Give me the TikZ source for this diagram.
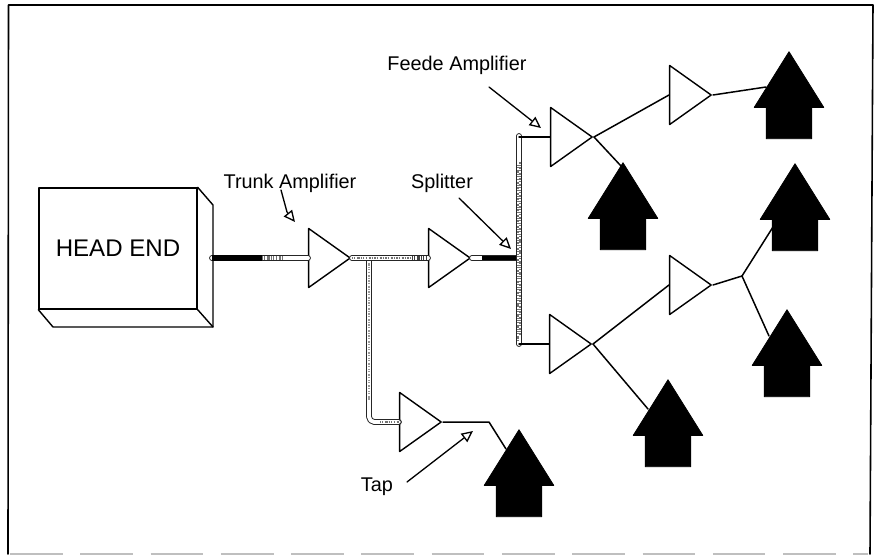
\documentclass[tikz,border=0pt]{standalone}
\usepackage{fontspec}
\setmainfont{Liberation Sans}
\usepackage{tikz}
\usetikzlibrary{arrows.meta,shapes.geometric,shapes.arrows}
\tikzset{
  every picture/.style={line join=round, line cap=round, >=Stealth},
  amp/.style={draw, isosceles triangle, isosceles triangle stretches, anchor=apex, inner sep=0pt, minimum width=1.18cm, minimum height=0.83cm, line width=0.8pt, fill=white},
  house/.style={single arrow, shape border rotate=90, anchor=tip, draw, fill=black, inner ysep=0pt, inner xsep=0.45cm, minimum height=1.74cm, minimum width=1.38cm, single arrow head extend=0.24cm, single arrow tip angle=64},
  wire/.style={line width=0.85pt},
  cable/.style={draw=black!85, line width=0.55pt, double=white, double distance=2.2pt},
  grit/.style={draw=black!55, line width=1pt, dash pattern=on 0.8pt off 0.6pt on 0.4pt off 1.3pt on 1.3pt off 0.5pt on 0.5pt off 0.9pt, line cap=butt},
  solidrun/.style={draw=black, line width=3.2pt, line cap=butt},
  lab/.style={inner sep=0pt, font=\fontsize{11.3}{13}\selectfont},
  callout/.style={line width=0.75pt, -{Triangle[open,fill=white,length=6.5pt,width=6pt]}},
}
\begin{document}
\begin{tikzpicture}[x=0.02cm,y=-0.02cm]
\useasboundingbox (0,0) rectangle (877,555);
\draw[line width=0.9pt] (8,554)--(8.5,5)--(873,5)--(870,554);
\draw[black!25,line width=0.8pt,dash pattern=on 30pt off 10pt,line cap=butt] (10,554)--(868,554);

\node[draw,line width=0.8pt,inner sep=0pt,minimum width=3.16cm,minimum height=2.42cm,font=\fontsize{13.7}{16}\selectfont] (headend) at (118,248.5) {HEAD END};
\coordinate (headback) at (213,205);
\coordinate (headcorner) at (213,327);
\coordinate (headbase) at (53,327);
\coordinate (headout) at (212,258);
\draw[line width=0.8pt] (headend.north east)--(headback)--(headcorner)--(headbase)--(headend.south west);
\draw[line width=0.8pt] (headend.south east)--(headcorner);

\node[amp] (trunkA) at (352,258) {};
\node[amp] (trunkB) at (472,258) {};
\node[amp] (tapamp) at (443,422) {};
\node[amp] (feedA) at (594,137) {};
\node[amp] (feedB) at (713,95) {};
\node[amp] (feedC) at (593,344) {};
\node[amp] (feedD) at (713,285) {};

\node[house] (homeA) at (789,51) {};
\node[house] (homeB) at (623,162) {};
\node[house] (homeC) at (795,163) {};
\node[house] (homeD) at (787,309) {};
\node[house] (homeE) at (668,379) {};
\node[house] (homeF) at (519,429) {};

\coordinate (busTop) at (519,136);
\coordinate (busMid) at (519,258);
\coordinate (busBot) at (519,344);
\coordinate (dropTop) at (369,258);
\coordinate (dropBot) at (369,422);
\coordinate (fork) at (742,276);
\coordinate (tapKnee) at (489,422);
\coordinate (blackEnd) at (262,258);
\coordinate (gritEnd) at (282,258);
\coordinate (gritB) at (412,258);
\coordinate (darkB) at (482,258);

\draw[cable,rounded corners=3pt] (dropTop)--(dropBot)--(tapamp.west);
\draw[grit,draw=black!40] (dropTop)--(369,400);
\draw[grit] (380,422)--(tapamp.west);
\draw[cable] (headout)--(trunkA.west);
\draw[solidrun] (headout)--(blackEnd);
\draw[grit,line width=2.4pt] (blackEnd)--(gritEnd);
\draw[cable] (trunkA.apex)--(trunkB.west);
\draw[grit,line width=1.3pt] (trunkA.apex)--(gritB);
\draw[grit,line width=2.2pt,draw=black!75] (gritB)--(trunkB.west);
\draw[cable] (trunkB.apex)--(busMid);
\draw[solidrun,line width=2.8pt] (darkB)--(busMid);
\draw[cable] (busTop)--(busBot);
\draw[grit] (518.2,165)--(518.2,340);
\draw[grit,dash phase=2.1pt] (519.8,160)--(519.8,335);
\draw[wire] (519,137)--(feedA.west);
\draw[wire] (busBot)--(feedC.west);

\draw[wire] (feedA.apex)--(feedB.west);
\draw[wire] (feedA.apex)--([shift={(-2,4)}]homeB.tip);
\draw[wire] (feedB.apex)--([shift={(-23,36)}]homeA.tip);
\draw[wire] (feedC.apex)--(feedD.west);
\draw[wire] (feedC.apex)--([shift={(-20,30)}]homeE.tip);
\draw[wire] (feedD.apex)--(fork);
\draw[wire] (fork)--([shift={(-22,64)}]homeC.tip);
\draw[wire] (fork)--([shift={(-18,27)}]homeD.tip);
\draw[wire] (tapamp.apex)--(tapKnee)--([shift={(-13,20)}]homeF.tip);

\node[lab] (labTrunk) at (290,183) {Trunk Amplifier};
\node[lab] (labSplit) at (442,183) {Splitter};
\node[lab] (labFeed) at (457,65) {Feede Amplifier};
\node[lab] (labTap) at (377,487) {Tap};
\coordinate (tipTrunk) at (295,222);
\coordinate (tipSplit) at (511,249);
\coordinate (tipFeed) at (541,128);
\coordinate (tipTap) at (473,431);
\draw[callout] ([shift={(-9,7)}]labTrunk.center)--(287,212)--(tipTrunk);
\draw[callout] ([shift={(17,15)}]labSplit.center)--(tipSplit);
\draw[callout] ([shift={(32,22)}]labFeed.center)--(tipFeed);
\draw[callout] ([shift={(30,-5)}]labTap.center)--(tipTap);
\end{tikzpicture}
\end{document}
